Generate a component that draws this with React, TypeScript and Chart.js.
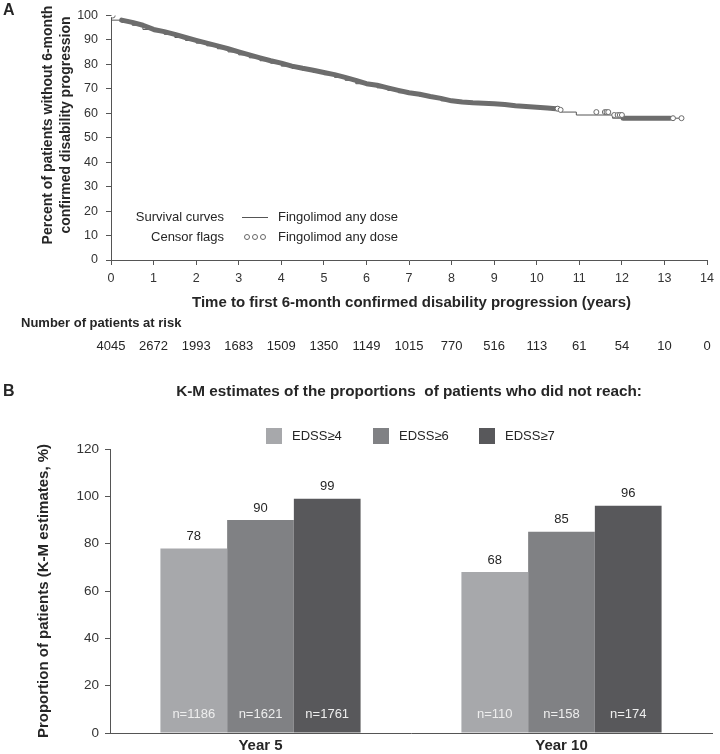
import React, { useEffect, useRef } from "react";
import { Chart, registerables } from "chart.js";

Chart.register(...registerables);

const FONT = "'Liberation Sans', Arial, Helvetica, sans-serif";
Chart.defaults.font.family = FONT;

// ---------- Panel A data ----------
const kmTimes = [0, 0.25, 0.5, 0.75, 1.0, 1.25, 1.5, 1.75, 2.0, 2.25, 2.5, 2.75, 3.0, 3.25, 3.5, 3.75, 4.0, 4.25, 4.5, 4.75, 5.0, 5.25, 5.5, 5.75, 6.0, 6.25, 6.5, 6.75, 7.0, 7.25, 7.5, 7.75, 8.0, 8.25, 8.5, 8.75, 9.0, 9.25, 9.5, 9.75, 10.0, 10.25, 10.45, 10.55, 10.93, 11.78, 12.03, 13.4];
const kmValues = [100, 98.1, 97.2, 96.0, 94.3, 93.4, 92.3, 91.0, 89.8, 88.7, 87.6, 86.4, 85.1, 83.9, 82.7, 81.5, 80.5, 79.3, 78.4, 77.6, 76.7, 75.8, 74.7, 73.5, 72.1, 71.5, 70.4, 69.4, 68.4, 67.8, 66.9, 66.1, 65.1, 64.6, 64.3, 64.1, 63.9, 63.6, 63.1, 62.8, 62.5, 62.2, 61.9, 61.4, 60.5, 59.3, 58.0, 58.0];
// dense censor-flag stretches (drawn as a band of overlapping flags)
const denseCensorRanges = [[0.25, 10.5], [12.03, 13.13]];
// isolated censor flags
const censorTimes = [0.04, 10.49, 10.56, 11.4, 11.6, 11.64, 11.68, 11.82, 11.9, 11.95, 12.0, 13.2, 13.4];
const atRiskTimes = [0, 1, 2, 3, 4, 5, 6, 7, 8, 9, 10, 11, 12, 13, 14];
const atRiskCounts = [4045, 2672, 1993, 1683, 1509, 1350, 1149, 1015, 770, 516, 113, 61, 54, 10, 0];

// ---------- Panel B data ----------
const yearLabels = ["Year 5", "Year 10"];
const edssLabels = ["EDSS\u22654", "EDSS\u22656", "EDSS\u22657"];
const edss4 = [78, 68];
const edss6 = [90, 85];
const edss7 = [99, 96];
const n4 = [1186, 110];
const n6 = [1621, 158];
const n7 = [1761, 174];
const barColors = ["#a7a8ab", "#808184", "#58585b"];

const TEXT = "#262626";

function kmAt(t: number): number {
  let v = kmValues[0];
  for (let i = 0; i < kmTimes.length; i++) {
    if (kmTimes[i] <= t) v = kmValues[i];
  }
  return v;
}

function buildBand() {
  const pts: any[] = [];
  denseCensorRanges.forEach(([a, b], k) => {
    if (k > 0) pts.push({ x: (a + pts[pts.length - 1].x) / 2, y: null });
    pts.push({ x: a, y: kmAt(a) });
    kmTimes.forEach((t, i) => {
      if (t > a && t < b) pts.push({ x: t, y: kmValues[i] });
    });
    pts.push({ x: b, y: kmAt(b) });
  });
  return pts;
}

const panelAPlugin = {
  id: "panelA",
  afterDraw(chart: any) {
    const ctx = chart.ctx;
    const xs = chart.scales.x;
    ctx.save();
    ctx.fillStyle = TEXT;
    ctx.textBaseline = "middle";
    ctx.font = `bold 16px ${FONT}`;
    ctx.textAlign = "left";
    ctx.fillText("A", 3, 11);
    ctx.font = `bold 14px ${FONT}`;
    ctx.textAlign = "center";
    const yLines = ["Percent of patients without 6-month", "confirmed disability progression"];
    const yX = [48, 66];
    yLines.forEach((l, i) => {
      ctx.save();
      ctx.translate(yX[i], 125);
      ctx.rotate(-Math.PI / 2);
      ctx.fillText(l, 0, 0);
      ctx.restore();
    });
    ctx.font = `bold 15px ${FONT}`;
    ctx.fillText("Time to first 6-month confirmed disability progression (years)", 411.5, 303);
    ctx.font = `bold 13px ${FONT}`;
    ctx.textAlign = "left";
    ctx.fillText("Number of patients at risk", 21, 323);
    ctx.font = `13px ${FONT}`;
    ctx.textAlign = "center";
    atRiskTimes.forEach((t, i) => {
      ctx.fillText(String(atRiskCounts[i]), xs.getPixelForValue(t), 346);
    });
    ctx.font = `13px ${FONT}`;
    ctx.textAlign = "right";
    ctx.fillText("Survival curves", 224, 217);
    ctx.fillText("Censor flags", 224, 237);
    ctx.textAlign = "left";
    ctx.fillText("Fingolimod any dose", 278, 217);
    ctx.fillText("Fingolimod any dose", 278, 237);
    ctx.strokeStyle = "#555";
    ctx.lineWidth = 1;
    ctx.beginPath();
    ctx.moveTo(242, 217.5);
    ctx.lineTo(268, 217.5);
    ctx.stroke();
    ctx.strokeStyle = "#666";
    [247, 255, 263].forEach((cx) => {
      ctx.beginPath();
      ctx.arc(cx, 237, 2.5, 0, Math.PI * 2);
      ctx.stroke();
    });
    ctx.restore();
  },
};

const panelBPlugin = {
  id: "panelB",
  afterDraw(chart: any) {
    const ctx = chart.ctx;
    ctx.save();
    ctx.fillStyle = TEXT;
    ctx.textBaseline = "middle";
    ctx.font = `bold 16px ${FONT}`;
    ctx.textAlign = "left";
    ctx.fillText("B", 3, 32);
    ctx.font = `bold 15.3px ${FONT}`;
    ctx.textAlign = "center";
    ctx.fillText("K-M estimates of the proportions  of patients who did not reach:", 409, 32);
    const lx = [266, 373, 479];
    ctx.font = `13px ${FONT}`;
    ctx.textAlign = "left";
    edssLabels.forEach((l, i) => {
      ctx.fillStyle = barColors[i];
      ctx.fillRect(lx[i], 68, 16, 16);
      ctx.fillStyle = TEXT;
      ctx.fillText(l, lx[i] + 26, 76);
    });
    ctx.font = `bold 15px ${FONT}`;
    ctx.textAlign = "center";
    ctx.save();
    ctx.translate(44, 231);
    ctx.rotate(-Math.PI / 2);
    ctx.fillText("Proportion of patients (K-M estimates, %)", 0, 0);
    ctx.restore();
    const nArr = [n4, n6, n7];
    ctx.font = `13px ${FONT}`;
    chart.data.datasets.forEach((ds: any, di: number) => {
      const meta = chart.getDatasetMeta(di);
      meta.data.forEach((bar: any, j: number) => {
        ctx.fillStyle = TEXT;
        ctx.fillText(String(ds.data[j]), bar.x, bar.y - 12);
        ctx.fillStyle = "#eeeeee";
        ctx.fillText("n=" + nArr[di][j], bar.x, 354);
      });
    });
    ctx.restore();
  },
};

export default function App() {
  const refA = useRef<HTMLCanvasElement>(null);
  const refB = useRef<HTMLCanvasElement>(null);

  useEffect(() => {
    const kmPts = kmTimes.map((t, i) => ({ x: t, y: kmValues[i] }));
    const censorPts = censorTimes.map((t) => ({ x: t, y: kmAt(t) }));
    const chartA = new Chart(refA.current as HTMLCanvasElement, {
      type: "line",
      data: {
        datasets: [
          {
            label: "Censor flags",
            data: censorPts,
            showLine: false,
            pointRadius: 2.5,
            pointBorderWidth: 1,
            pointBorderColor: "#6a6a6a",
            pointBackgroundColor: "#ffffff",
          },
          {
            label: "Dense censor flags",
            data: buildBand(),
            borderColor: "#6d6d6d",
            borderWidth: 5,
            borderCapStyle: "round",
            borderJoinStyle: "round",
            pointRadius: 0,
            spanGaps: false,
          },
          {
            label: "Survival curve",
            data: kmPts,
            stepped: "after",
            borderColor: "#555",
            borderWidth: 1,
            pointRadius: 0,
          },
        ],
      } as any,
      options: {
        animation: false,
        responsive: false,
        parsing: false,
        layout: { padding: { top: 7, right: 10, left: 0, bottom: 0 } },
        plugins: { legend: { display: false }, tooltip: { enabled: false } },
        scales: {
          x: {
            type: "linear",
            min: 0,
            max: 14,
            ticks: { stepSize: 1, color: "#333", font: { size: 12.5 }, padding: 6, maxRotation: 0 },
            grid: { drawOnChartArea: false, drawTicks: true, tickLength: 5, color: "#555" },
            border: { color: "#555", width: 1 },
            afterFit: (s: any) => { s.height = 100; },
          },
          y: {
            min: 0,
            max: 100,
            ticks: { stepSize: 10, color: "#333", font: { size: 12.5 }, padding: 8 },
            grid: { drawOnChartArea: false, drawTicks: true, tickLength: 5, color: "#555" },
            border: { color: "#555", width: 1 },
            afterFit: (s: any) => { s.width = 111; },
          },
        },
      } as any,
      plugins: [panelAPlugin],
    });

    const chartB = new Chart(refB.current as HTMLCanvasElement, {
      type: "bar",
      data: {
        labels: yearLabels,
        datasets: [
          { label: edssLabels[0], data: edss4, backgroundColor: barColors[0] },
          { label: edssLabels[1], data: edss6, backgroundColor: barColors[1] },
          { label: edssLabels[2], data: edss7, backgroundColor: barColors[2] },
        ],
      },
      options: {
        animation: false,
        responsive: false,
        layout: { padding: { top: 89, right: 8, left: 0, bottom: 0 } },
        datasets: { bar: { categoryPercentage: 0.665, barPercentage: 1.0, borderWidth: 0 } },
        plugins: { legend: { display: false }, tooltip: { enabled: false } },
        scales: {
          x: {
            ticks: { color: TEXT, font: { size: 15, weight: "bold" }, padding: 4 },
            grid: { display: false, drawTicks: false, tickLength: 0 },
            border: { display: true, color: "#555", width: 1 },
            afterFit: (s: any) => { s.height = 21; },
          },
          y: {
            min: 0,
            max: 120,
            ticks: { stepSize: 20, color: "#333", font: { size: 13.5 }, padding: 6 },
            grid: { drawOnChartArea: false, drawTicks: true, tickLength: 5, color: "#555" },
            border: { color: "#555", width: 1 },
            afterFit: (s: any) => { s.width = 110; },
          },
        },
      } as any,
      plugins: [panelBPlugin],
    });

    return () => {
      chartA.destroy();
      chartB.destroy();
    };
  }, []);

  return (
    <div style={{ position: "absolute", left: 0, top: 0, width: 720, height: 754, background: "#fff" }}>
      <canvas ref={refA} width={720} height={360} style={{ position: "absolute", left: 0, top: 0 }} />
      <canvas ref={refB} width={720} height={394} style={{ position: "absolute", left: 0, top: 360 }} />
    </div>
  );
}
